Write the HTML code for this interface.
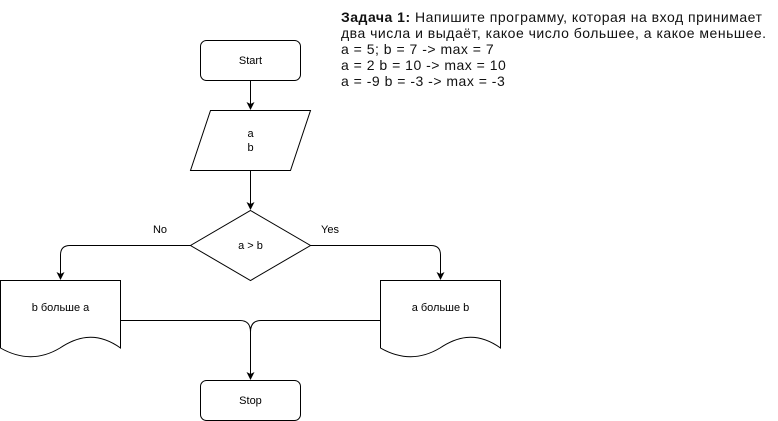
<!DOCTYPE html>
<html><head><meta charset="utf-8"><style>
body{margin:0;background:#fff;width:778px;height:421px;overflow:hidden;position:relative;font-family:"Liberation Sans",Arial,sans-serif}
#t{position:absolute;left:341px;top:9px;font-size:14px;letter-spacing:0.5px;line-height:16px;color:#111;white-space:nowrap}
</style></head><body>
<svg width="778" height="421" style="position:absolute;left:0;top:0" font-family="Liberation Sans, Arial, sans-serif" font-size="11">
<defs><marker id="a" markerWidth="8" markerHeight="8" refX="7" refY="4" orient="auto" markerUnits="userSpaceOnUse"><path d="M0,0 L8,4 L0,8 L2,4 Z" fill="#000"/></marker></defs>
<g fill="#fff" stroke="#000" stroke-width="1">
<rect x="200.5" y="40.5" width="100" height="40" rx="6"/>
<path d="M210.5,110.5 H310.5 L290.5,170.5 H190.5 Z"/>
<path d="M250.5,210.5 L310.5,245.5 L250.5,280.5 L190.5,245.5 Z"/>
<path d="M0.5,280.5 H120.5 V348 C95,330 75,338 60,348 C45,357 25,362 0.5,348 Z"/>
<path d="M380.5,280.5 H500.5 V348 C475,330 455,338 440,348 C425,357 405,362 380.5,348 Z"/>
<rect x="200.5" y="380.5" width="100" height="40" rx="6"/>
</g>
<g fill="none" stroke="#000" stroke-width="1">
<path d="M250.5,80.5 V109" marker-end="url(#a)"/>
<path d="M250.5,170.5 V209" marker-end="url(#a)"/>
<path d="M190.5,245.5 H70 Q60.5,245.5 60.5,255 V279" marker-end="url(#a)"/>
<path d="M310.5,245.5 H431 Q440.5,245.5 440.5,255 V279" marker-end="url(#a)"/>
<path d="M120.5,320.5 H240 Q250.5,320.5 250.5,332 V379" marker-end="url(#a)"/>
<path d="M380.5,320.5 H261 Q250.5,320.5 250.5,332"/>
</g>
<g fill="#000" text-anchor="middle">
<text x="250.5" y="64">Start</text>
<text x="250.5" y="137">a</text>
<text x="250.5" y="151">b</text>
<text x="250.5" y="249">a &gt; b</text>
<text x="160" y="233">No</text>
<text x="330" y="233">Yes</text>
<text x="60.5" y="311">b больше a</text>
<text x="440.5" y="311">a больше b</text>
<text x="250.5" y="404">Stop</text>
</g>
</svg>
<div id="t"><b>Задача 1:</b> Напишите программу, которая на вход принимает<br>два числа и выдаёт, какое число большее, а какое меньшее.<br>a = 5; b = 7 -&gt; max = 7<br>a = 2 b = 10 -&gt; max = 10<br>a = -9 b = -3 -&gt; max = -3</div>
</body></html>
